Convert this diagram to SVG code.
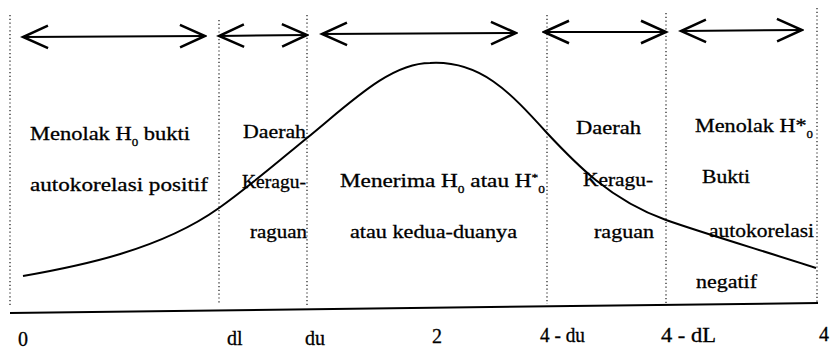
<svg xmlns="http://www.w3.org/2000/svg" width="834" height="351" viewBox="0 0 834 351">
<style>
.t{font-family:"Liberation Serif","Times New Roman",serif;font-size:19px;fill:#000;stroke:#000;stroke-width:0.3}
.ax{font-size:20px}
.s{font-size:11px}
.dot{stroke:#000;stroke-width:1.1;stroke-dasharray:1.2 2.6;fill:none}
.arr{stroke:#000;stroke-width:2;fill:none;marker-start:url(#ah);marker-end:url(#ah)}
.curve{stroke:#000;stroke-width:2;fill:none}
</style>
<defs>
<marker id="ah" markerUnits="userSpaceOnUse" markerWidth="30" markerHeight="30" viewBox="-22 -11 24 22" refX="0" refY="0" orient="auto-start-reverse">
<path d="M-20,-9 L0,0 L-20,9" fill="none" stroke="#000" stroke-width="2"/>
</marker>
</defs>
<rect width="834" height="351" fill="#fff"/>
<g id="gridlines">
<line class="dot" x1="10" y1="15" x2="10" y2="306"/>
<line class="dot" x1="219" y1="20" x2="219" y2="305"/>
<line class="dot" x1="307" y1="15" x2="307" y2="305"/>
<line class="dot" x1="547" y1="15" x2="547" y2="304"/>
<line class="dot" x1="666" y1="13" x2="666" y2="303"/>
<line class="dot" x1="817" y1="8" x2="817" y2="302"/>
</g>
<g id="axis">
<line x1="10" y1="313" x2="818" y2="303" stroke="#000" stroke-width="2"/>
<text class="t ax" x="18" y="346">0</text>
<text class="t ax" x="227" y="345">dl</text>
<text class="t ax" x="305" y="345">du</text>
<text class="t ax" x="432" y="343">2</text>
<text class="t ax" x="540" y="342" textLength="45" lengthAdjust="spacingAndGlyphs">4 - du</text>
<text class="t ax" x="661" y="342" textLength="55" lengthAdjust="spacingAndGlyphs">4 - dL</text>
<text class="t ax" x="819" y="341">4</text>
</g>
<g id="distribution">
<path class="curve" d="M23,276 C80,266 160,250 219,208 C250,186 280,160 307,138 C350,103 390,63 430,63 C480,60 510,92 547,133 C575,163 610,200 666,220 C700,232 760,250 816,268"/>
</g>
<g id="connectors">
<line class="arr" x1="23" y1="37" x2="205" y2="36"/>
<line class="arr" x1="219" y1="36" x2="307" y2="35"/>
<line class="arr" x1="322" y1="34" x2="516" y2="33"/>
<line class="arr" x1="544" y1="32" x2="666" y2="32"/>
<line class="arr" x1="681" y1="31" x2="802" y2="30"/>
</g>
<g id="tolak-h0">
<text class="t" x="30" y="140" textLength="160" lengthAdjust="spacingAndGlyphs">Menolak H<tspan class="s" baseline-shift="sub">0</tspan> bukti</text>
<text class="t" x="30" y="191" textLength="178" lengthAdjust="spacingAndGlyphs">autokorelasi positif</text>
</g>
<g id="ragu-kiri">
<text class="t" x="243" y="138" textLength="63" lengthAdjust="spacingAndGlyphs">Daerah</text>
<text class="t" x="242" y="188" textLength="64" lengthAdjust="spacingAndGlyphs">Keragu-</text>
<text class="t" x="250" y="238" textLength="57" lengthAdjust="spacingAndGlyphs">raguan</text>
</g>
<g id="terima">
<text class="t" x="340" y="187" textLength="205" lengthAdjust="spacingAndGlyphs">Menerima H<tspan class="s" baseline-shift="sub">0</tspan>  atau H<tspan class="s" baseline-shift="super">*</tspan><tspan class="s" baseline-shift="sub">0</tspan></text>
<text class="t" x="350" y="238" textLength="167" lengthAdjust="spacingAndGlyphs">atau kedua-duanya</text>
</g>
<g id="ragu-kanan">
<text class="t" x="576" y="134" textLength="65" lengthAdjust="spacingAndGlyphs">Daerah</text>
<text class="t" x="583" y="186" textLength="70" lengthAdjust="spacingAndGlyphs">Keragu-</text>
<text class="t" x="594" y="238" textLength="60" lengthAdjust="spacingAndGlyphs">raguan</text>
</g>
<g id="tolak-h0-star">
<text class="t" x="695" y="132" textLength="118" lengthAdjust="spacingAndGlyphs">Menolak H*<tspan class="s" baseline-shift="sub">0</tspan></text>
<text class="t" x="702" y="183" textLength="48" lengthAdjust="spacingAndGlyphs">Bukti</text>
<text class="t" x="709" y="237" textLength="105" lengthAdjust="spacingAndGlyphs">autokorelasi</text>
<text class="t" x="696" y="288" textLength="61" lengthAdjust="spacingAndGlyphs">negatif</text>
</g>
</svg>
